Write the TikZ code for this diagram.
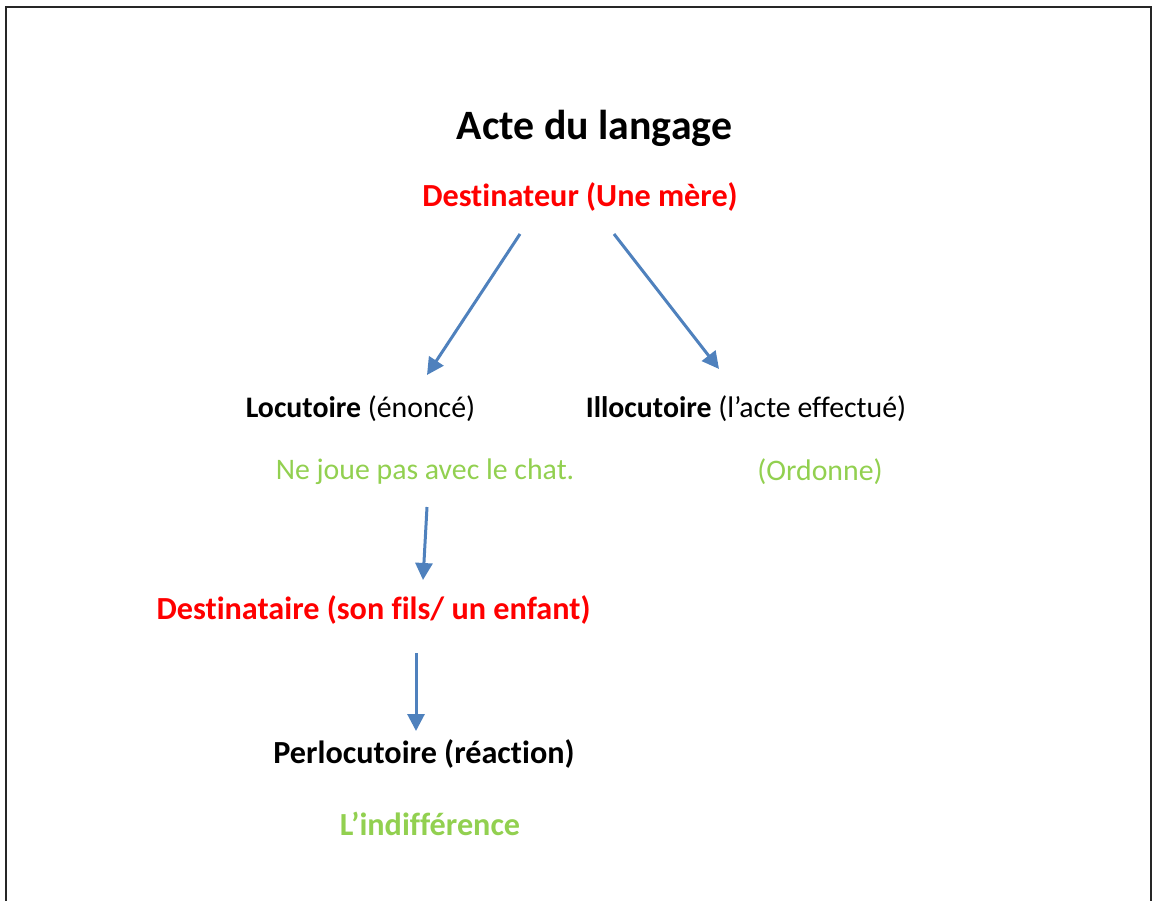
\documentclass[tikz,border=0pt]{standalone}
\usepackage{fontspec}
\setmainfont{Carlito}[Ligatures={NoCommon}]
\usepackage{xcolor}
\usetikzlibrary{arrows.meta}
\definecolor{arrblue}{HTML}{4F81BD}
\definecolor{lgreen}{HTML}{92D050}
\tikzset{
  txt/.style={inner sep=0pt, font=\fontsize{29.8}{36}\selectfont},
  boldtxt/.style={inner sep=0pt, font=\fontsize{32.2}{38}\selectfont\bfseries},
  ttl/.style={inner sep=0pt, font=\fontsize{41.8}{50}\selectfont\bfseries},
  redtxt/.style={boldtxt, text=red},
  greentxt/.style={txt, text=lgreen},
  arr/.style={arrblue, line width=3pt, -{Triangle[length=17pt,width=17pt]}}
}
\begin{document}
\begin{tikzpicture}[x=1pt, y=-1pt]
        % page frame (no bottom edge)
        \useasboundingbox (0,0) rectangle (1153,901);
        \draw[line width=2pt, black!85] (6,901) -- (6,7) -- (1151,7) -- (1151,901);
        % texts
        \node[ttl] (title) at (594.5,128) {Acte du langage};
        \node[redtxt] (dest) at (580,197) {Destinateur (Une mère)};
        \node[txt] (loc) at (360.5,409) {\textbf{Locutoire} (énoncé)};
        \node[txt] (illoc) at (746,409) {\textbf{Illocutoire} (l’acte effectué)};
        \node[greentxt] (enonce) at (425,472) {Ne joue pas avec le chat.};
        \node[greentxt] (ordre) at (820,472) {(Ordonne)};
        \node[redtxt] (destin) at (373.5,610) {Destinataire (son fils/ un enfant)};
        \node[boldtxt] (perl) at (424,754) {Perlocutoire (réaction)};
        \node[boldtxt, text=lgreen] (indiff) at (430,824) {L’indifférence};
        % arrow ends
        \coordinate (d1) at (520,234);
        \coordinate (d2) at (614,234);
        \coordinate (e1) at (427,507);
        \coordinate (f1) at (416,653);
        \draw[arr] (d1) -- (427,375);
        \draw[arr] (d2) -- (719,369);
        \draw[arr] (e1) -- (423,580);
        \draw[arr] (f1) -- (416,731);
\end{tikzpicture}
\end{document}
